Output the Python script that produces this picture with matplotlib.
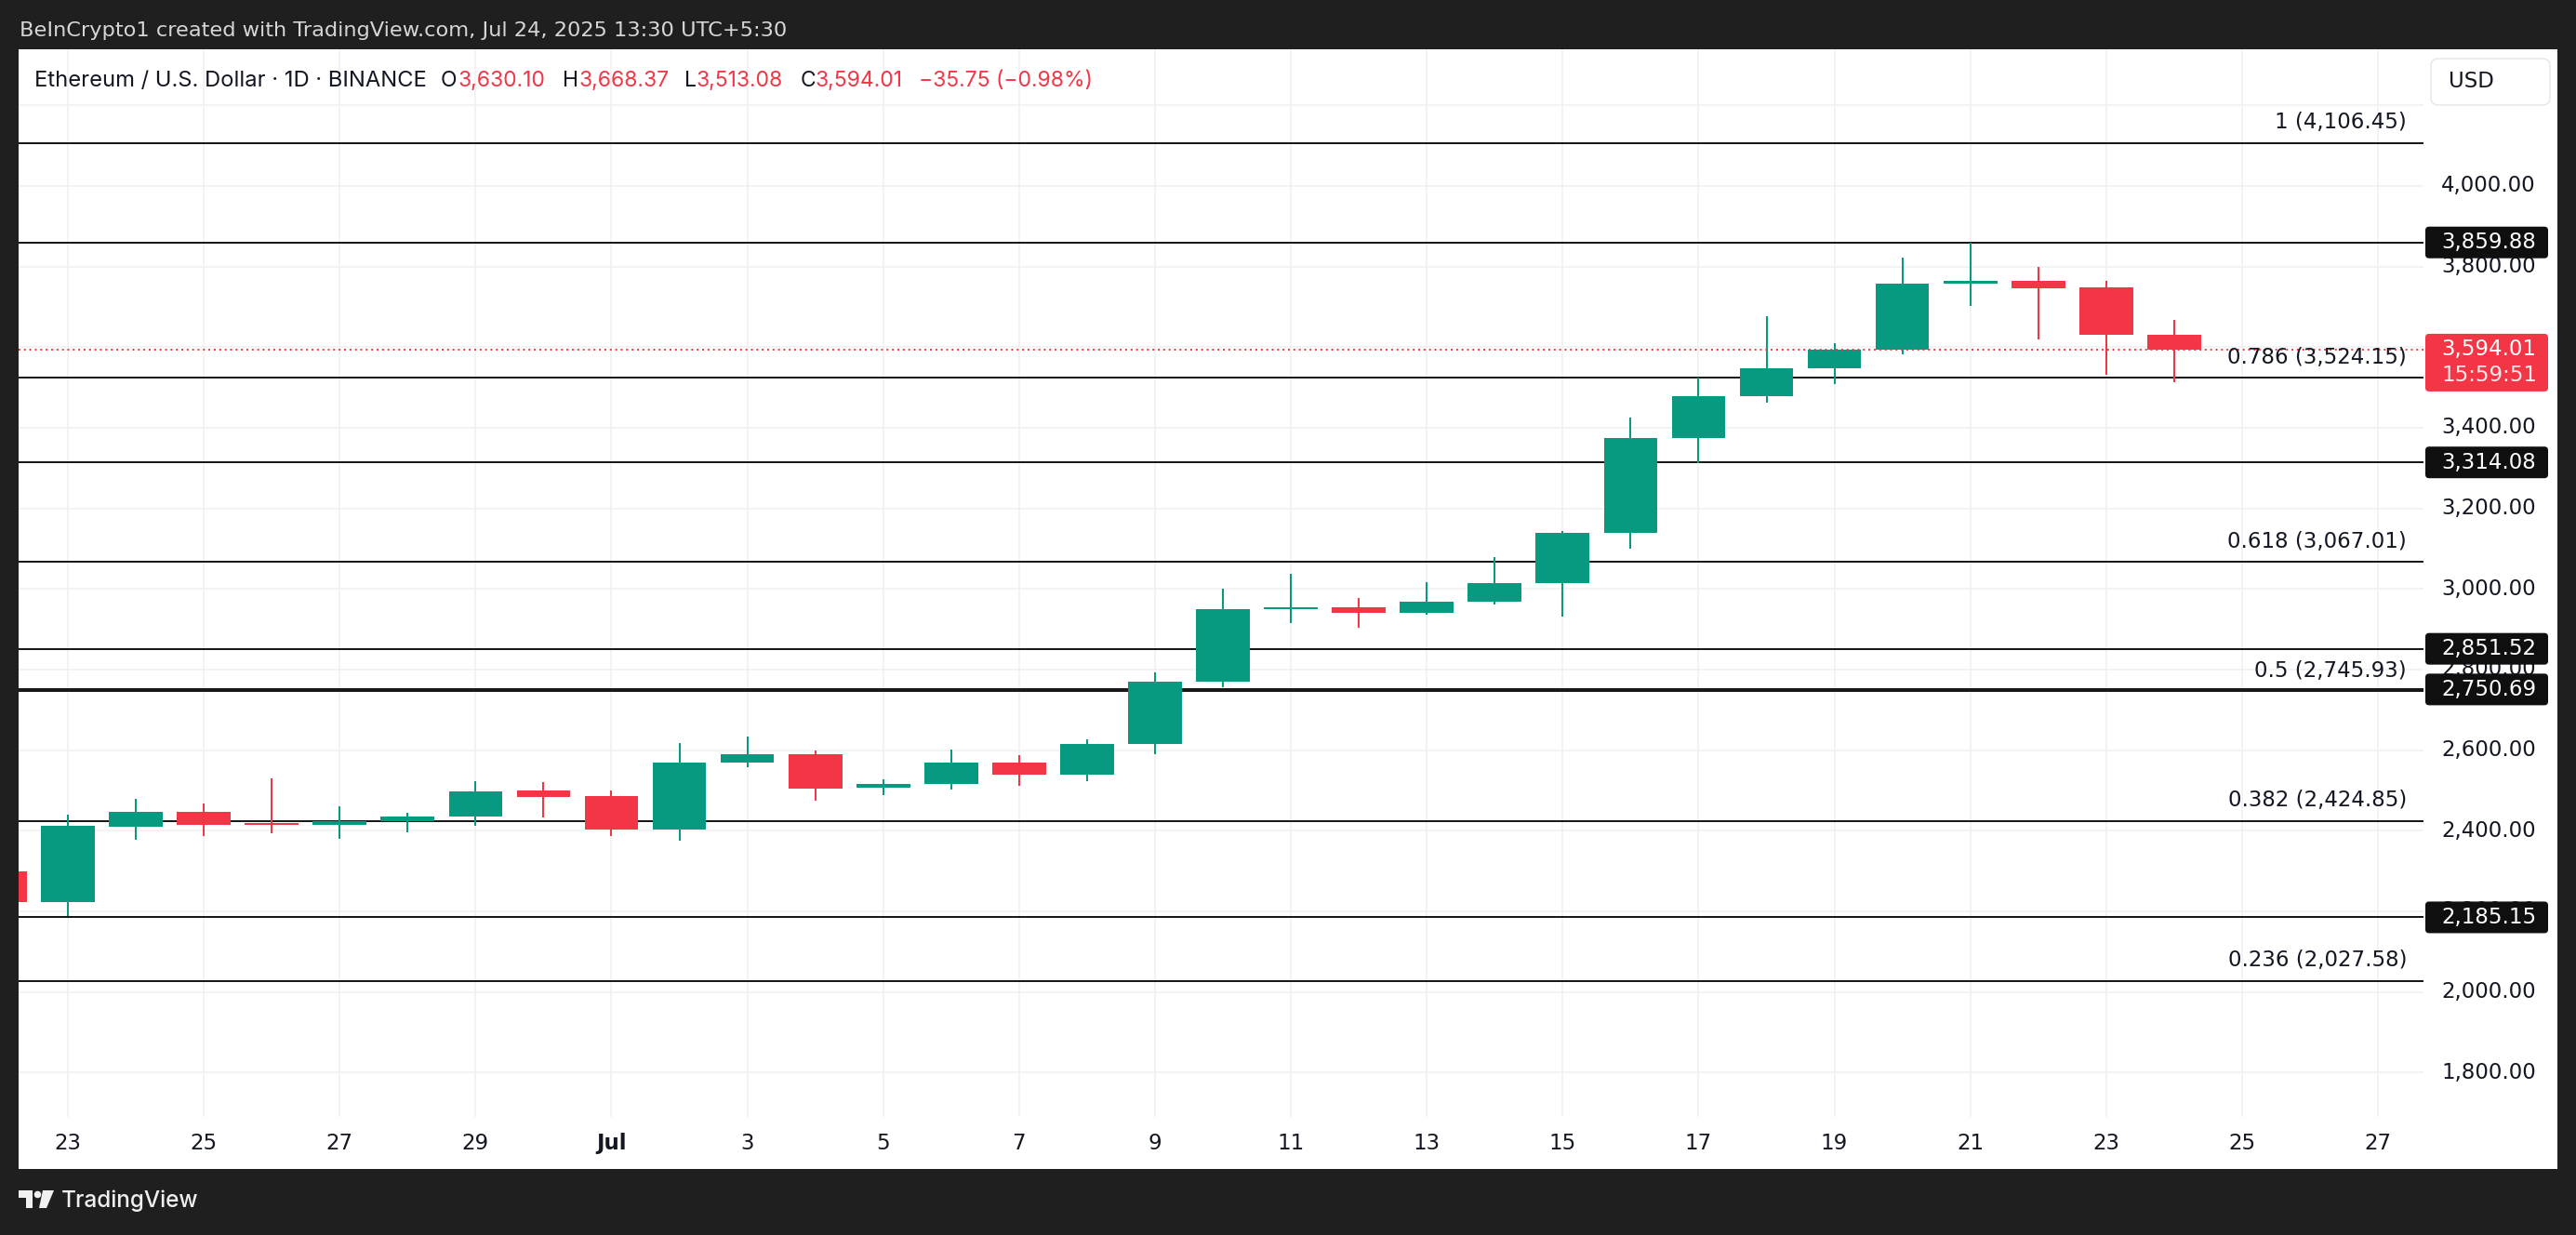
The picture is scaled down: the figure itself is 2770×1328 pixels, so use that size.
import matplotlib
matplotlib.use("Agg")
import matplotlib.pyplot as plt
import numpy as np
import pandas as pd
from matplotlib.patches import Rectangle, FancyBboxPatch, Polygon, Circle
from matplotlib.transforms import IdentityTransform, blended_transform_factory

plt.rcParams['font.family'] = ['Inter', 'DejaVu Sans']

# ---------------- data ----------------
dates = pd.date_range('2025-06-22', '2025-07-24', freq='D')
opens = [2299, 2222, 2409, 2447, 2419, 2414, 2423, 2435, 2500, 2485, 2403,
         2569, 2590, 2507, 2516, 2569, 2540, 2615, 2770, 2950, 2955, 2940,
         2968, 3014, 3139, 3374, 3478, 3548, 3593, 3757, 3765, 3748, 3630.10]
highs = [2310, 2440, 2479, 2468, 2530, 2461, 2445, 2523, 2521, 2500, 2618,
         2634, 2599, 2528, 2602, 2588, 2627, 2793, 3001, 3038, 2978, 3017,
         3079, 3144, 3425, 3525, 3677, 3610, 3822, 3859, 3799, 3765, 3668.37]
lows = [2110, 2189, 2377, 2386, 2393, 2379, 2395, 2412, 2433, 2387, 2375,
        2558, 2475, 2489, 2502, 2512, 2523, 2590, 2756, 2915, 2904, 2936,
        2962, 2931, 3100, 3313, 3463, 3509, 3583, 3702, 3619, 3531, 3513.08]
closes = [2223, 2412, 2447, 2414, 2414, 2423, 2435, 2498, 2483, 2403, 2569,
          2590, 2505, 2516, 2569, 2540, 2615, 2770, 2950, 2955, 2940, 2968,
          3015, 3139, 3375, 3479, 3548, 3594, 3758, 3765, 3746, 3630, 3594.01]

fib_labels = ['1', '0.786', '0.618', '0.5', '0.382', '0.236']
fib_prices = [4106.45, 3524.15, 3067.01, 2745.93, 2424.85, 2027.58]
tag_prices = [3859.88, 3314.08, 2851.52, 2750.69, 2185.15]
last_price = 3594.01
countdown = '15:59:51'
ytick_values = [1800, 2000, 2200, 2400, 2600, 2800, 3000, 3200, 3400, 3600, 3800, 4000]
grid_values = ytick_values + [4200]
xtick_dates = pd.date_range('2025-06-23', '2025-07-27', freq='2D')

title_main = 'Ethereum / U.S. Dollar · 1D · BINANCE'
ohlc_header = [('O', '3,630.10'), ('H', '3,668.37'), ('L', '3,513.08'), ('C', '3,594.01')]
change_text = '−35.75 (−0.98%)'
watermark = 'BeInCrypto1 created with TradingView.com, Jul 24, 2025 13:30 UTC+5:30'

# ---------------- style ----------------
GREEN = '#089981'
RED = '#F23645'
TXT = '#131722'
GRID = '#f0f0f0'
DARK = '#1f1f1f'
FS = 16.5
NUMFONT = ['DejaVu Sans']

W, H = 2770, 1328
fig = plt.figure(figsize=(W / 100, H / 100), dpi=100, facecolor=DARK)


def fx(px):
    return px / W


def fy(py):
    return 1 - py / H


# white panel
fig.add_artist(Rectangle((fx(20), fy(1257)), fx(2750) - fx(20), fy(53) - fy(1257),
                         transform=fig.transFigure, fc='white', ec='none', zorder=-1))

ax = fig.add_axes([fx(20), fy(1201), fx(2606) - fx(20), fy(53) - fy(1201)])
ax.set_facecolor('white')
x0 = pd.Timestamp('2025-06-23')
x = np.asarray((dates - x0).days, dtype=float)
ax.set_xlim((20 - 73) / 73.06, (2606 - 73) / 73.06)
ax.set_ylim(1690, 4339.2)
for s in ax.spines.values():
    s.set_visible(False)

# grid
for g in grid_values:
    ax.axhline(g, color=GRID, lw=1.1, zorder=0)
xt = np.asarray((xtick_dates - x0).days, dtype=float)
for v in xt:
    ax.axvline(v, color=GRID, lw=1.1, zorder=0)

# fib / horizontal lines
for p in fib_prices + tag_prices:
    ax.axhline(p, color='black', lw=1.3, zorder=2)

# candles
o = np.array(opens); h = np.array(highs); l = np.array(lows); c = np.array(closes)
cols = np.where(c >= o, GREEN, RED)
ax.vlines(x, l, h, colors=cols, lw=1.45, zorder=3)
ax.bar(x, np.maximum(np.abs(c - o), 2.0), bottom=np.minimum(o, c), width=0.79,
       color=cols, linewidth=0, zorder=4)

# last price line
ax.axhline(last_price, color=RED, lw=1.4, linestyle=(0, (1, 2)), zorder=5)

# fib labels
for lab, p in zip(fib_labels, fib_prices):
    ax.annotate(f'{lab} ({p:,.2f})', xy=(fx(2588), p), xycoords=('figure fraction', 'data'),
                xytext=(0, 15.8), textcoords='offset points', ha='right', va='center',
                fontsize=FS, color=TXT, zorder=6, annotation_clip=False, family=NUMFONT)

# price axis labels
blend = blended_transform_factory(fig.transFigure, ax.transData)
for v in ytick_values:
    ax.text(fx(2625), v, f'{v:,.2f}', transform=blend, ha='left', va='center',
            fontsize=FS, color=TXT, clip_on=False, family=NUMFONT)

# x axis labels
xlabels = ['Jul' if d.day == 1 else str(d.day) for d in xtick_dates]
ax.set_yticks([])
ax.set_xticks(xt, xlabels)
ax.tick_params(axis='x', length=0, pad=12.5, labelsize=FS, labelcolor=TXT)
for t in ax.get_xticklabels():
    t.set_family(NUMFONT)
    if t.get_text() == 'Jul':
        t.set_fontweight('bold')


# price tags
def tag(price, text, fc, height=34, extra=None):
    yd = ax.transData.transform((0, price))[1]
    bottom_off = height - 17
    fig.add_artist(FancyBboxPatch((2608, yd - bottom_off), 132, height,
                                  boxstyle='round,pad=0,rounding_size=4',
                                  transform=IdentityTransform(), fc=fc, ec='none', zorder=5))
    fig.text(fx(2625), yd / H, text, ha='left', va='center', fontsize=FS, color='white',
             zorder=6, family=NUMFONT)
    if extra is not None:
        fig.text(fx(2625), (yd - 28) / H, extra, ha='left', va='center', fontsize=FS,
                 color='#fde8ea', zorder=6, family=NUMFONT)


for p in tag_prices:
    tag(p, f'{p:,.2f}', '#0f0f0f')
tag(last_price, f'{last_price:,.2f}', RED, height=62, extra=countdown)

# USD box
fig.add_artist(FancyBboxPatch((2614, H - 113), 128, 50, boxstyle='round,pad=0,rounding_size=8',
                              transform=IdentityTransform(), fc='white', ec='#e6e6e6',
                              lw=1.0, zorder=5))
fig.text(fx(2633), fy(87), 'USD', ha='left', va='center', fontsize=FS, color=TXT, zorder=6,
         family=NUMFONT)

# header
fig.text(fx(37), fy(87), title_main, ha='left', va='center', fontsize=17.1, color=TXT)
hx = [(474, 493), (605, 622), (736, 749), (861, 877)]
for (k, v), (px1, px2) in zip(ohlc_header, hx):
    fig.text(fx(px1), fy(87), k, ha='left', va='center', fontsize=FS, color=TXT)
    fig.text(fx(px2), fy(87), v, ha='left', va='center', fontsize=FS, color=RED)
fig.text(fx(988), fy(87), change_text, ha='left', va='center', fontsize=FS, color=RED)

# watermark
fig.text(fx(21), fy(33), watermark, ha='left', va='center', fontsize=16.2, color='#d6d6d6',
         family=NUMFONT)

# TradingView logo (simple)
logo_col = '#f0f0f0'
fig.add_artist(Polygon([(20, H - 1280), (35, H - 1280), (35, H - 1299), (28, H - 1299),
                        (28, H - 1288), (20, H - 1288)], closed=True,
                       transform=IdentityTransform(), fc=logo_col, ec='none'))
fig.add_artist(Circle((40.5, H - 1284.5), 3.8, transform=IdentityTransform(), fc=logo_col, ec='none'))
fig.add_artist(Polygon([(46, H - 1280), (58, H - 1280), (50, H - 1299), (42, H - 1299)],
                       closed=True, transform=IdentityTransform(), fc=logo_col, ec='none'))
fig.text(fx(66), fy(1291), 'TradingView', ha='left', va='center', fontsize=17.5,
         color=logo_col, fontweight='medium')

fig.savefig('out.png', dpi=100, facecolor=DARK)
